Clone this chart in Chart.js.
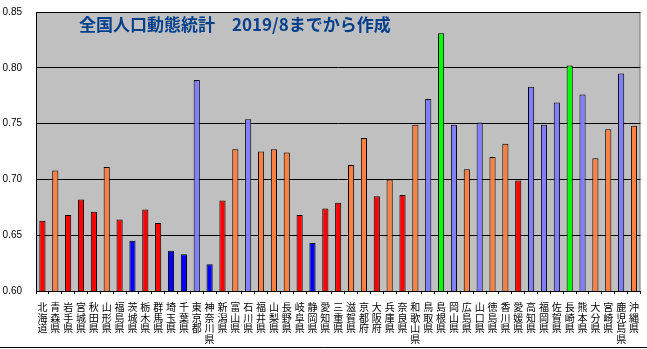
<!DOCTYPE html>
<html>
<head>
<meta charset="utf-8">
<script src="https://cdn.jsdelivr.net/npm/chart.js@4/dist/chart.umd.min.js"></script>
<style>
  html, body { margin: 0; padding: 0; background: #fff; }
  #wrap { width: 647px; height: 349px; position: relative; }
</style>
</head>
<body>
<div id="wrap"><canvas id="chart"></canvas></div>
<script>
const prefectures = ["北海道", "青森県", "岩手県", "宮城県", "秋田県", "山形県", "福島県", "茨城県", "栃木県", "群馬県",
  "埼玉県", "千葉県", "東京都", "神奈川県", "新潟県", "富山県", "石川県", "福井県", "山梨県", "長野県",
  "岐阜県", "静岡県", "愛知県", "三重県", "滋賀県", "京都府", "大阪府", "兵庫県", "奈良県", "和歌山県",
  "鳥取県", "島根県", "岡山県", "広島県", "山口県", "徳島県", "香川県", "愛媛県", "高知県", "福岡県",
  "佐賀県", "長崎県", "熊本県", "大分県", "宮崎県", "鹿児島県", "沖縄県"];

const ratios = [0.663, 0.708, 0.668, 0.682, 0.671, 0.711, 0.664, 0.645, 0.673, 0.661,
  0.636, 0.633, 0.789, 0.624, 0.681, 0.727, 0.754, 0.725, 0.727, 0.724,
  0.668, 0.643, 0.674, 0.679, 0.713, 0.737, 0.685, 0.700, 0.686, 0.749,
  0.772, 0.831, 0.749, 0.709, 0.751, 0.720, 0.732, 0.699, 0.783, 0.749,
  0.769, 0.802, 0.776, 0.719, 0.745, 0.795, 0.748];

// group letter per prefecture: R red, O orange, B blue, L light blue, G green
const groups = ["R", "O", "R", "R", "R", "O", "R", "B", "R", "R",
  "B", "B", "L", "B", "R", "O", "L", "O", "O", "O",
  "R", "B", "R", "R", "O", "O", "R", "O", "R", "O",
  "L", "G", "L", "O", "L", "O", "O", "R", "L", "L",
  "L", "G", "L", "O", "O", "L", "O"];

const yTicks = [0.60, 0.65, 0.70, 0.75, 0.80, 0.85];

const groupColors = { R: "#ff0000", O: "#ff8040", B: "#0000ff", L: "#8080ff", G: "#00ff00" };
const titleText = "全国人口動態統計　2019/8までから作成";

const plotBg = {
  id: "plotBg",
  beforeDraw(chart) {
    const { ctx, chartArea: a } = chart;
    ctx.save();
    ctx.fillStyle = "#c0c0c0";
    ctx.fillRect(a.left, a.top, a.right - a.left, a.bottom - a.top);
    ctx.strokeStyle = "#808080";
    ctx.lineWidth = 1;
    ctx.beginPath();
    ctx.moveTo(a.left, a.top + 0.5);
    ctx.lineTo(a.right - 0.5, a.top + 0.5);
    ctx.lineTo(a.right - 0.5, a.bottom);
    ctx.stroke();
    ctx.restore();
  },
  afterDraw(chart) {
    const { ctx } = chart;
    ctx.save();
    ctx.fillStyle = "#003f8c";
    ctx.font = "bold 17px 'Noto Sans CJK JP'";
    ctx.textBaseline = "alphabetic";
    ctx.fillText(titleText, 79, 31);
    // outer bottom line
    ctx.strokeStyle = "#000";
    ctx.beginPath();
    ctx.moveTo(0, 347.5);
    ctx.lineTo(647, 347.5);
    ctx.stroke();
    ctx.restore();
  }
};

new Chart(document.getElementById("chart").getContext("2d"), {
  type: "bar",
  plugins: [plotBg],
  data: {
    labels: prefectures.map((p) => p.split("")),
    datasets: [{
      data: ratios,
      backgroundColor: groups.map((g) => groupColors[g]),
      borderColor: "#000",
      borderWidth: 1,
      borderSkipped: false,
      barPercentage: 0.48,
      categoryPercentage: 1
    }]
  },
  options: {
    responsive: true,
    maintainAspectRatio: false,
    animation: false,
    layout: { padding: { top: 12, right: 1, left: 0, bottom: 0 } },
    plugins: { legend: { display: false }, tooltip: { enabled: false } },
    scales: {
      x: {
        offset: true,
        afterFit: (s) => { s.height = 58; },
        grid: { offset: true, drawOnChartArea: false, drawTicks: true, tickLength: 3, color: "#000" },
        border: { color: "#000" },
        ticks: {
          autoSkip: false, maxRotation: 0, minRotation: 0, color: "#000", padding: 8,
          font: { family: "'Noto Sans CJK JP'", size: 10, lineHeight: 1.05 }
        }
      },
      y: {
        min: 0.60,
        max: 0.85,
        afterFit: (s) => { s.width = 36; s.paddingTop = 0; s.paddingBottom = 0; },
        afterBuildTicks: (s) => { s.ticks = yTicks.map((v) => ({ value: v })); },
        grid: { color: "#000", drawTicks: false },
        border: { color: "#000" },
        ticks: {
          color: "#000", padding: 14,
          font: { family: "'Liberation Sans'", size: 10 },
          callback: (v) => Number(v).toFixed(2)
        }
      }
    }
  }
});
</script>
</body>
</html>
